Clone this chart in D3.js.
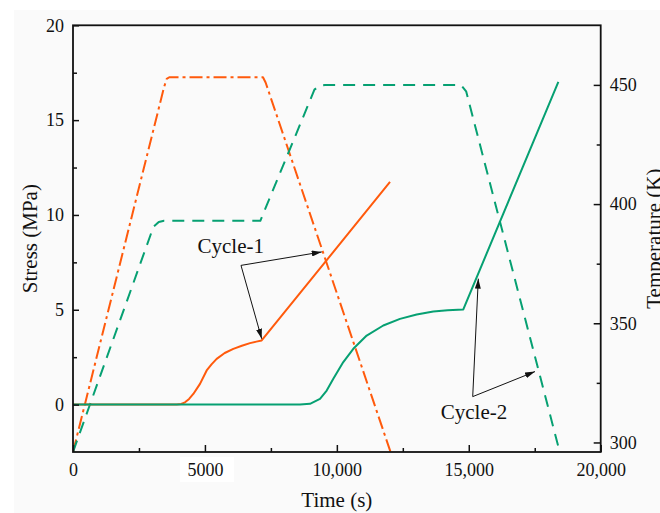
<!doctype html>
<html>
<head>
<title>Stress and temperature cycles</title>
<style type="text/css">
body { margin: 0; background: #fff; }
svg text { font-family: "Liberation Serif", "Times New Roman", serif; fill: #111; }
</style>
<script src="https://cdnjs.cloudflare.com/ajax/libs/d3/7.8.5/d3.min.js"></script>
</head>
<body>
<script type="text/javascript">
var width = 660, height = 513;

// Temperature histories (right axis, K)
var temp1Time = [0, 3450, 3550, 3650, 7200, 7300, 12050];
var temp1Value = [296, 449, 452.5, 453.2, 453.2, 451, 295.5];
var temp2Time = [0, 3050, 3250, 3450, 7100, 9150, 9350, 9550, 14700, 14900, 18400];
var temp2Value = [296, 390.5, 392.5, 393, 393, 448, 449.7, 450, 450, 447.3, 298];

// Stress histories (left axis, MPa)
var stress1Time = [0, 3930, 4100, 4245, 4400, 4560, 4813, 5066, 5250, 5445, 5750, 6076, 6400, 6708, 6950, 7150, 12015];
var stress1Value = [0, 0, 0.03, 0.12, 0.3, 0.56, 1.09, 1.8, 2.12, 2.41, 2.72, 2.94, 3.1, 3.24, 3.32, 3.38, 11.74];
var stress2Time = [0, 8603, 8982, 9361, 9615, 9866, 10244, 10623, 11131, 11760, 12393, 13026, 13656, 14200, 14793, 18395];
var stress2Value = [0, 0, 0.04, 0.3, 0.74, 1.36, 2.24, 2.94, 3.64, 4.17, 4.52, 4.75, 4.91, 4.97, 5.02, 17.02];

// ticks
var xTicks = [0, 5000, 10000, 15000, 20000];
var xTickLabels = ["0", "5000", "10,000", "15,000", "20,000"];
var xMinor = [2500, 7500, 12500, 17500];
var stressTicks = [0, 5, 10, 15, 20];
var stressMinor = [2.5, 7.5, 12.5, 17.5];
var tempTicks = [300, 350, 400, 450];
var tempMinor = [325, 375, 425];

// annotations: label position and arrow tips, [time, stress] on the left axis
var cycle1Label = [5980, 7.97];
var cycle1Origin = [6367, 7.34];
var cycle1Tips = [[9426, 8.05], [7152, 3.47]];
var cycle2Label = [15198, -0.76];
var cycle2Origin = [15149, 0.42];
var cycle2Tips = [[15362, 6.64], [17510, 1.74]];

var orange = "#ff5a0c", green = "#06a072";

var plotLeft = 73, plotRight = 600.7, plotTop = 25.3, plotBottom = 452;

var x = d3.scaleLinear().domain([0, 20000]).range([plotLeft, plotRight]);
var yS = d3.scaleLinear().domain([-2.5, 20]).range([plotBottom, plotTop]);
var yT = d3.scaleLinear().domain([296, 475]).range([plotBottom, plotTop]);

var svg = d3.select("body").append("svg")
	.attr("width", width)
	.attr("height", height);

// light grey page behind the figure
svg.append("rect").attr("x", 14).attr("y", 10)
	.attr("width", width - 14).attr("height", height - 10)
	.attr("fill", "#fafafa");
svg.append("rect").attr("x", 180).attr("y", 457)
	.attr("width", 54).attr("height", 25).attr("fill", "#fff");

var defs = svg.append("defs");
defs.append("clipPath").attr("id", "plot")
	.append("rect").attr("x", plotLeft).attr("y", plotTop)
	.attr("width", plotRight - plotLeft).attr("height", plotBottom - plotTop);

defs.append("marker")
	.attr("id", "head")
	.attr("viewBox", "0 0 10 6")
	.attr("refX", 10).attr("refY", 3)
	.attr("markerWidth", 10).attr("markerHeight", 6)
	.attr("markerUnits", "userSpaceOnUse")
	.attr("orient", "auto")
	.append("path").attr("d", "M0,0L10,3L0,6Z").attr("fill", "#111");

function zip(t, v) {
	return t.map(function(d, i) { return [d, v[i]]; });
}

var series = [
	{ data: zip(temp1Time, temp1Value), y: yT, color: orange, dash: "13,4,3,4" },
	{ data: zip(temp2Time, temp2Value), y: yT, color: green, dash: "12,8" },
	{ data: zip(stress1Time, stress1Value), y: yS, color: orange, dash: null },
	{ data: zip(stress2Time, stress2Value), y: yS, color: green, dash: null }
];

var lines = svg.append("g").attr("clip-path", "url(#plot)");
series.forEach(function(s) {
	var line = d3.line()
		.x(function(d) { return x(d[0]); })
		.y(function(d) { return s.y(d[1]); });
	lines.append("path")
		.attr("d", line(s.data))
		.attr("fill", "none")
		.attr("stroke", s.color)
		.attr("stroke-width", 2)
		.attr("stroke-dasharray", s.dash)
		.attr("stroke-linejoin", "round");
});

// axes
function style(g) {
	g.selectAll(".domain").remove();
	g.selectAll("line").attr("stroke", "#111").attr("stroke-width", 1.5);
	g.selectAll("text").style("font-size", "18px").attr("fill", "#111");
}

svg.append("g").attr("transform", "translate(0," + plotBottom + ")")
	.call(d3.axisBottom(x).tickValues(xTicks).tickSize(-7).tickPadding(11)
		.tickFormat(function(d, i) { return xTickLabels[i]; }))
	.call(style);
svg.append("g").attr("transform", "translate(0," + plotBottom + ")")
	.call(d3.axisBottom(x).tickValues(xMinor).tickSize(-4).tickFormat(""))
	.call(style);

svg.append("g").attr("transform", "translate(" + plotLeft + ",0)")
	.call(d3.axisLeft(yS).tickValues(stressTicks).tickSize(-6).tickPadding(9))
	.call(style);
svg.append("g").attr("transform", "translate(" + plotLeft + ",0)")
	.call(d3.axisLeft(yS).tickValues(stressMinor).tickSize(-4).tickFormat(""))
	.call(style);

svg.append("g").attr("transform", "translate(" + plotRight + ",0)")
	.call(d3.axisRight(yT).tickValues(tempTicks).tickSize(-7).tickPadding(9))
	.call(style);
svg.append("g").attr("transform", "translate(" + plotRight + ",0)")
	.call(d3.axisRight(yT).tickValues(tempMinor).tickSize(-4).tickFormat(""))
	.call(style);

// frame
svg.append("rect")
	.attr("x", plotLeft).attr("y", plotTop)
	.attr("width", plotRight - plotLeft).attr("height", plotBottom - plotTop)
	.attr("fill", "none").attr("stroke", "#111").attr("stroke-width", 1.8);

// axis titles
var midY = (plotTop + plotBottom) / 2;
svg.append("text").attr("transform", "translate(37," + midY + ") rotate(-90)")
	.attr("text-anchor", "middle").style("font-size", "21px").text("Stress (MPa)");
svg.append("text").attr("transform", "translate(661," + midY + ") rotate(-90)")
	.attr("text-anchor", "middle").style("font-size", "21px").text("Temperature (K)");
svg.append("text").attr("x", (plotLeft + plotRight) / 2).attr("y", 507)
	.attr("text-anchor", "middle").style("font-size", "21px").text("Time (s)");

// annotations
function annotate(label, text, origin, tips) {
	svg.append("text").attr("x", x(label[0])).attr("y", yS(label[1]))
		.attr("text-anchor", "middle").style("font-size", "21px").text(text);
	tips.forEach(function(t) {
		svg.append("line")
			.attr("x1", x(origin[0])).attr("y1", yS(origin[1]))
			.attr("x2", x(t[0])).attr("y2", yS(t[1]))
			.attr("stroke", "#111").attr("stroke-width", 1)
			.attr("marker-end", "url(#head)");
	});
}
annotate(cycle1Label, "Cycle-1", cycle1Origin, cycle1Tips);
annotate(cycle2Label, "Cycle-2", cycle2Origin, cycle2Tips);
</script>
</body>
</html>
